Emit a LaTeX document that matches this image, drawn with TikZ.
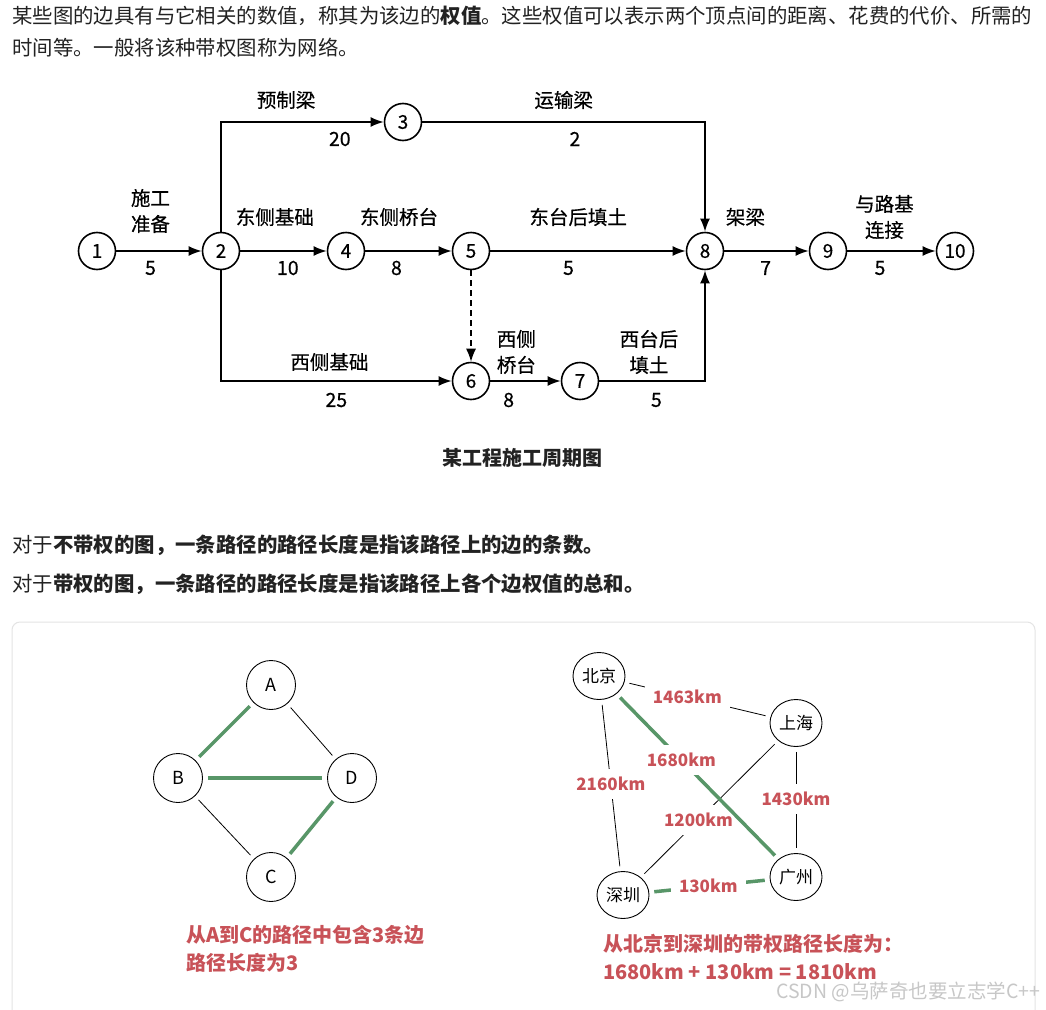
\documentclass[tikz,border=0pt]{standalone}
\usepackage{fontspec}
\setmainfont{Noto Sans CJK SC}
\usetikzlibrary{arrows.meta,shapes.geometric}
\definecolor{MyGreen}{RGB}{88,150,104}
\definecolor{MyRed}{RGB}{200,82,88}
\definecolor{MyText}{RGB}{34,34,34}
\definecolor{BoxGray}{RGB}{228,228,228}
\tikzset{
  ev/.style={circle,draw,line width=1.6pt,minimum size=37pt,inner sep=0pt,font=\fontsize{19}{19}\selectfont\addfontfeature{FakeBold=0.4}},
  act/.style={line width=1.8pt,-{Latex[length=13pt,width=10pt]}},
  lbl/.style={font=\fontsize{19.5}{26}\selectfont\addfontfeature{FakeBold=0.5},align=center,inner sep=0pt},
  vx/.style={circle,draw,line width=0.9pt,minimum size=49pt,inner sep=0pt,font=\fontsize{18}{18}\selectfont},
  city/.style={ellipse,draw,line width=0.9pt,minimum width=52pt,minimum height=47pt,inner sep=0pt,font=\fontsize{17}{17}\selectfont},
  thinedge/.style={line width=0.8pt,shorten <=5pt,shorten >=5pt},
  pathedge/.style={line width=3.5pt,MyGreen,shorten <=5pt,shorten >=5pt},
  km/.style={fill=white,text=MyRed,font=\bfseries\fontsize{17}{17}\selectfont,inner sep=8pt},
  para/.style={anchor=west,inner sep=0pt,text=MyText,font=\fontsize{20.4}{20.4}\selectfont},
  note/.style={anchor=west,align=left,inner sep=0pt,text=MyRed,font=\bfseries\fontsize{20}{28}\selectfont},
}

\begin{document}
\begin{tikzpicture}[x=1pt,y=-1pt]
    \fill[white] (0,0) rectangle (1046,1009);
    \useasboundingbox (0,0) rectangle (1046,1009);

    \node[para] (p1) at (12,16) {某些图的边具有与它相关的数值，称其为该边的\textbf{权值}。这些权值可以表示两个顶点间的距离、花费的代价、所需的};
    \node[para] (p2) at (12,48) {时间等。一般将该种带权图称为网络。};

%   network
    \foreach \n/\x/\y in {1/97/251,2/221/251,3/403/122,4/346/251,5/471/251,
                          6/471/381,7/580/381,8/705/251,9/828/251,10/955/251} {
        \node[ev] (n\n) at (\x,\y) {\n};
    }
    \draw[act] (n1) -- node[lbl,pos=.4,yshift=40pt]{施工\\准备} node[lbl,pos=.4,yshift=-17pt]{5} (n2);
    \draw[act] (n2) -- node[lbl,pos=.4,yshift=34pt]{东侧基础} node[lbl,pos=.55,yshift=-17pt]{10} (n4);
    \draw[act] (n4) -- node[lbl,pos=.39,yshift=34pt]{东侧桥台} node[lbl,pos=.36,yshift=-17pt]{8} (n5);
    \draw[act] (n5) -- node[lbl,pos=.45,yshift=34pt]{东台后填土} node[lbl,pos=.4,yshift=-17pt]{5} (n8);
    \draw[act] (n8) -- node[lbl,pos=.25,yshift=34pt]{架梁} node[lbl,pos=.49,yshift=-17pt]{7} (n9);
    \draw[act] (n9) -- node[lbl,pos=.42,yshift=34pt]{与路基\\连接} node[lbl,pos=.37,yshift=-17pt]{5} (n10);
    \draw[act] (n2) -- (n2 |- n3) -- node[lbl,pos=.4,yshift=22pt]{预制梁} node[lbl,pos=.73,yshift=-17pt]{20} (n3);
    \draw[act] (n3) -- node[lbl,yshift=22pt]{运输梁} node[lbl,pos=.54,yshift=-17pt]{2} (n3 -| n8) -- (n8);
    \draw[act] (n2) -- (n2 |- n6) -- node[lbl,pos=.47,yshift=19pt]{西侧基础} node[lbl,pos=.5,yshift=-19pt]{25} (n6);
    \draw[act] (n6) -- node[lbl,pos=.37,yshift=29pt]{西侧\\桥台} node[lbl,pos=.26,yshift=-19pt]{8} (n7);
    \draw[act] (n7) -- node[lbl,pos=.47,yshift=29pt]{西台后\\填土} node[lbl,pos=.54,yshift=-19pt]{5} (n7 -| n8) -- (n8);
    \draw[act,line width=1.3pt,dash pattern=on 6pt off 4pt] (n5) -- (n6);

    \node[para,anchor=center,font=\bfseries\fontsize{20}{20}\selectfont] (cap) at (522,458) {某工程施工周期图};

    \node[para] (p3) at (12,545) {对于\textbf{不带权的图，一条路径的路径长度是指该路径上的边的条数。}};
    \node[para] (p4) at (12,584) {对于\textbf{带权的图，一条路径的路径长度是指该路径上各个边权值的总和。}};

    \draw[BoxGray,line width=1pt,rounded corners=8pt] (12,622) rectangle (1035,1040);

%   unweighted
    \node[vx] (A) at (271,685) {A};
    \node[vx] (B) at (178,778) {B};
    \node[vx] (D) at (352,778) {D};
    \node[vx] (C) at (271,877) {C};
    \draw[thinedge] (A) -- (D);
    \draw[thinedge] (B) -- (C);
    \draw[pathedge] (A) -- (B);
    \draw[pathedge] (B) -- (D);
    \draw[pathedge] (D) -- (C);
    \node[note] (noteA) at (186,949) {从A到C的路径中包含3条边\\路径长度为3};

%   weighted
    \node[city] (bj) at (599,676) {北京};
    \node[city] (sh) at (796,723) {上海};
    \node[city] (sz) at (623,895) {深圳};
    \node[city] (gz) at (796,877) {广州};
    \draw[thinedge] (bj) -- node[km,pos=.43]{1463km} (sh);
    \draw[thinedge] (bj) -- node[km,pos=.49]{2160km} (sz);
    \draw[thinedge] (sh) -- node[km,pos=.58]{1200km} (sz);
    \draw[thinedge] (sh) -- node[km,pos=.49]{1430km} (gz);
    \draw[pathedge] (bj) -- node[km,pos=.4]{1680km} (gz);
    \draw[pathedge] (sz) -- node[km,pos=.49]{130km} (gz);
    \node[note] (noteB) at (603,957) {从北京到深圳的带权路径长度为：\\1680km + 130km = 1810km};

    \node[anchor=west,inner sep=0pt,text=black!22,font=\fontsize{19.5}{19.5}\selectfont] (wm) at (776,992) {CSDN @乌萨奇也要立志学C++};
\end{tikzpicture}
\end{document}
